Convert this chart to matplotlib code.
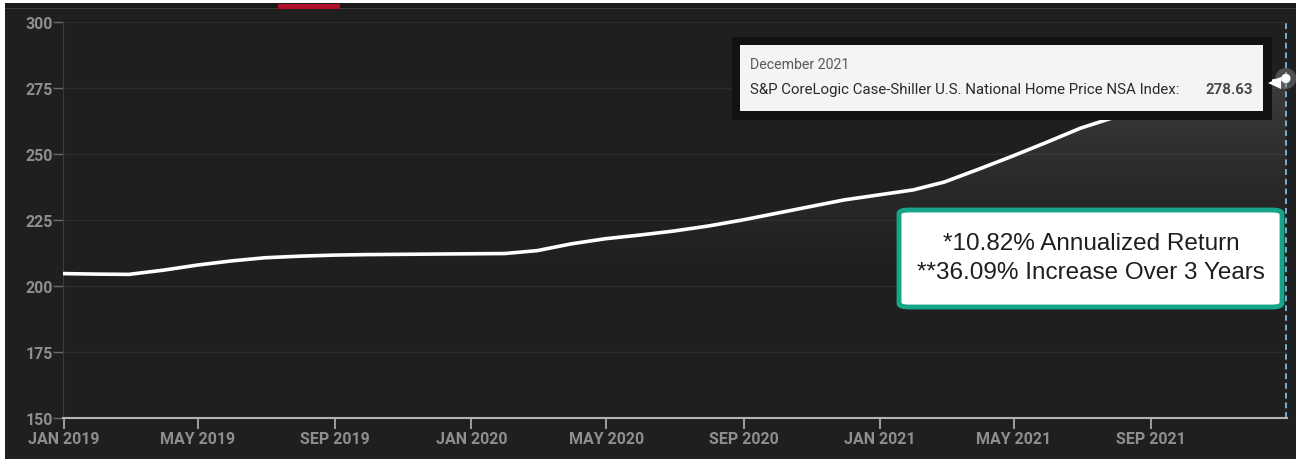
import matplotlib
matplotlib.use('Agg')
import matplotlib.pyplot as plt
import matplotlib.dates as mdates
import numpy as np
import pandas as pd
from matplotlib.patches import Rectangle, FancyBboxPatch, Polygon

FIG_W, FIG_H, DPI = 1296, 460, 100

BG = '#1f1f1f'
TOP_BAR = '#1a1a1a'
GRID = '#2b2b2b'
TICK_TEXT = '#8e8e8e'
AXIS_LINE = '#b4b4b4'
DASH_BLUE = '#6db3d6'
GREEN = '#17a589'

# index values, one per month (Dec 2018 .. Dec 2021), plotted at month end
months = pd.date_range('2018-12-31', periods=37, freq='ME')
values = [204.7, 204.5, 204.4, 206.0, 207.9, 209.5, 210.7, 211.3, 211.7,
          211.9, 212.0, 212.1, 212.2, 212.3, 213.4, 216.0, 217.9, 219.3,
          220.8, 222.7, 225.0, 227.5, 230.1, 232.6, 234.5, 236.4, 239.4,
          244.3, 249.2, 254.5, 259.8, 264.0, 267.5, 270.3, 273.0, 275.9,
          278.63]

x_ticks = pd.date_range('2019-01-01', '2021-09-01', freq='4MS')
x_tick_labels = [d.strftime('%b %Y').upper() for d in x_ticks]
y_ticks = [150, 175, 200, 225, 250, 275, 300]

tooltip_title = 'December 2021'
tooltip_series = 'S&P CoreLogic Case-Shiller U.S. National Home Price NSA Index:'
tooltip_value = '278.63'
note_lines = ['*10.82% Annualized Return', '**36.09% Increase Over 3 Years']


def px(x, y):
    """pixel position (from top-left) -> figure fraction"""
    return x / FIG_W, 1 - y / FIG_H


def px_rect(x0, y0, x1, y1, **kw):
    fx, fy = px(x0, y1)
    return Rectangle((fx, fy), (x1 - x0) / FIG_W, (y1 - y0) / FIG_H,
                     transform=fig.transFigure, **kw)


fig = plt.figure(figsize=(FIG_W / DPI, FIG_H / DPI), dpi=DPI, facecolor=BG)

# page frame: white edge, dark tab strip with red marker
fig.add_artist(px_rect(0, 0, FIG_W, 4, facecolor='white', edgecolor='none'))
fig.add_artist(px_rect(0, 0, 5, FIG_H, facecolor='white', edgecolor='none'))
fig.add_artist(px_rect(5, 4, FIG_W, 9, facecolor=TOP_BAR, edgecolor='none'))
fig.add_artist(px_rect(5, 8.5, FIG_W, 10, facecolor='#3a3a3a', edgecolor='none'))
fig.add_artist(px_rect(278, 5, 340, 9.5, facecolor='#b0102a', edgecolor='none'))

l, b = px(63, 419)
r, t = px(1287, 23)
ax = fig.add_axes([l, b, r - l, t - b])
ax.set_facecolor(BG)

x_num = mdates.date2num(months)
ax.set_xlim(x_num[0], x_num[-1] + 1)
ax.set_ylim(150, 300)

# faint gradient under the line
fill = ax.fill_between(x_num, values, 150, color='none')
v = np.linspace(300, 150, 300)
alpha = np.clip((v - 200) / 85, 0, 1) ** 1.4 * 0.15
grad = np.zeros((len(v), 1, 4))
grad[..., :3] = 1.0
grad[:, 0, 3] = alpha
img = ax.imshow(grad, aspect='auto', extent=[x_num[0], x_num[-1] + 1, 150, 300],
                origin='upper', zorder=1)
img.set_clip_path(fill.get_paths()[0], transform=ax.transData)

ax.plot(x_num, values, color='white', lw=2.6, solid_capstyle='round', zorder=3)

for yv in y_ticks[1:]:
    ax.axhline(yv, color=GRID, lw=1, zorder=0)

ax.axvline(x_num[-1], color=DASH_BLUE, lw=1.4, ls=(0, (3, 2)), zorder=2)

ax.set_yticks(y_ticks)
ax.set_xticks(mdates.date2num(x_ticks))
ax.set_xticklabels(x_tick_labels)
ax.tick_params(axis='x', colors=AXIS_LINE, length=8, width=1.2, pad=1.5,
               labelcolor=TICK_TEXT, labelsize=11.5)
ax.tick_params(axis='y', colors='#6a6a6a', length=7, width=1, pad=0.5,
               labelcolor=TICK_TEXT, labelsize=11.5)
for lab in ax.get_xticklabels() + ax.get_yticklabels():
    lab.set_fontfamily('Roboto')
    lab.set_fontweight('bold')

for side in ['top', 'right']:
    ax.spines[side].set_visible(False)
ax.spines['left'].set_color('#3c3c3c')
ax.spines['bottom'].set_color(AXIS_LINE)
ax.spines['bottom'].set_linewidth(1.5)

# end point marker
ax.scatter([x_num[-1]], [values[-1]], s=230, color='#8a8a8a', alpha=0.45,
           zorder=5, clip_on=False, edgecolors='none')
ax.scatter([x_num[-1]], [values[-1]], s=45, color='white', zorder=6,
           clip_on=False, edgecolors='none')

# tooltip
fig.add_artist(px_rect(732, 38, 1272, 121, facecolor='#121212', edgecolor='none'))
fig.add_artist(px_rect(740, 46, 1263, 112, facecolor='#f4f4f4', edgecolor='none'))
pointer = Polygon([px(1268, 84), px(1281, 78), px(1281, 90)], closed=True,
                  transform=fig.transFigure, facecolor='white', edgecolor='none')
fig.add_artist(pointer)
fig.text(*px(750, 65), tooltip_title, color='#5a5a5a', fontsize=10.2,
         family='Roboto', va='center', ha='left')
fig.text(*px(750, 90), tooltip_series, color='#2a2a2a', fontsize=10.8,
         family='Roboto', va='center', ha='left')
fig.text(*px(1253, 90), tooltip_value, color='#4a4a4a', fontsize=10.8,
         family='Roboto', fontweight='bold', va='center', ha='right')

# annotation box
bx0, by0 = px(899, 308)
bx1, by1 = px(1282, 211)
box = FancyBboxPatch((bx0, by0), bx1 - bx0, by1 - by0,
                     boxstyle='round,pad=0,rounding_size=0.008',
                     transform=fig.transFigure, facecolor='white',
                     edgecolor=GREEN, linewidth=3.5, zorder=10)
fig.add_artist(box)
fig.text(*px(1091, 244), note_lines[0], color='#1e1e1e', fontsize=17.5,
         family='Liberation Sans', ha='center', va='center', zorder=11)
fig.text(*px(1091, 273), note_lines[1], color='#1e1e1e', fontsize=17.5,
         family='Liberation Sans', ha='center', va='center', zorder=11)

fig.savefig('out.png', dpi=DPI, facecolor=BG)
